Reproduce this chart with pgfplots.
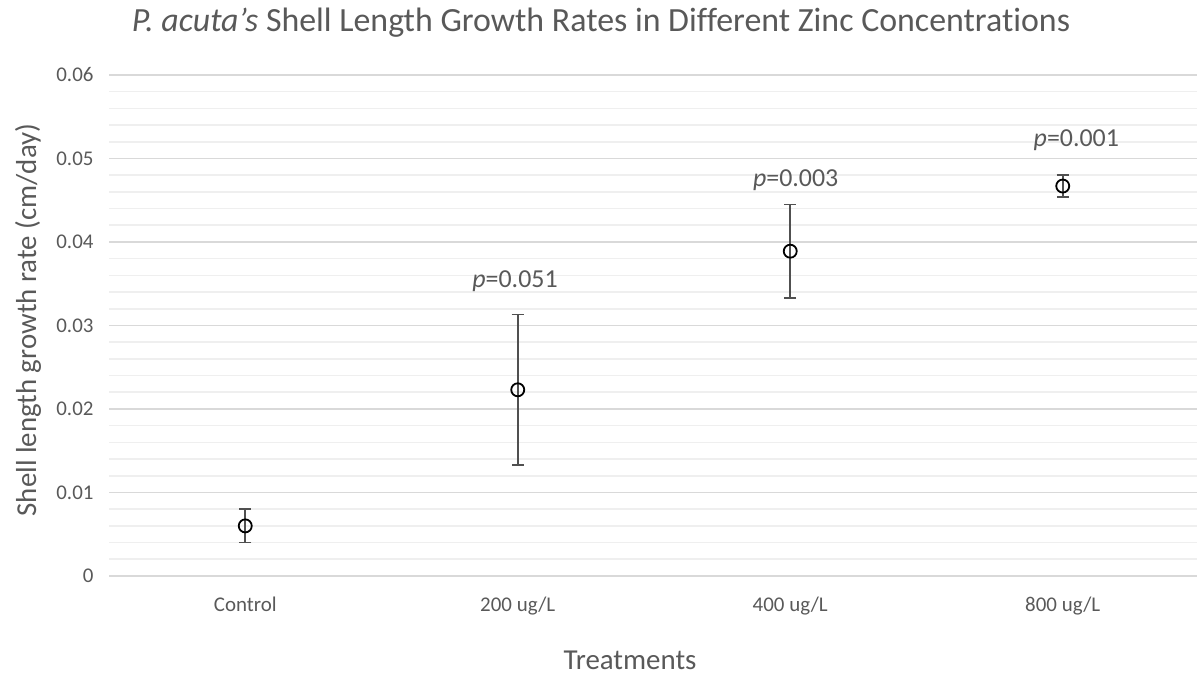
\documentclass[border=0pt]{standalone}
\usepackage{pgfplots}
\pgfplotsset{compat=1.18}
\usepackage{fontspec}
\setmainfont[Ligatures=NoCommon]{Carlito}
\definecolor{txt}{HTML}{595959}
\definecolor{majg}{HTML}{D9D9D9}
\definecolor{ming}{HTML}{EFEFEF}
\definecolor{errc}{HTML}{505050}
\begin{document}
\begin{tikzpicture}[x=1bp,y=1bp]
\useasboundingbox (0,0) rectangle (1197,675);
\begin{axis}[
  at={(109bp,99bp)}, anchor=south west,
  scale only axis, width=1090bp, height=501bp,
  xmin=-0.5, xmax=3.5, ymin=0, ymax=0.06,
  scaled y ticks=false,
  axis line style={draw=none},
  major tick style={draw=none}, minor tick style={draw=none},
  xtick={0,1,2,3},
  xticklabels={Control,200 ug/L,400 ug/L,800 ug/L},
  ytick={0,0.01,0.02,0.03,0.04,0.05,0.06},
  yticklabels={0,0.01,0.02,0.03,0.04,0.05,0.06},
  minor ytick={0.002,0.004,...,0.06},
  ymajorgrids, yminorgrids,
  major grid style={majg, line width=1.6bp},
  minor grid style={ming, line width=1.6bp},
  tick label style={font=\fontsize{21}{24}\selectfont, text=txt},
  yticklabel style={anchor=east, xshift=-12bp},
  xticklabel style={anchor=base, yshift=-36bp},
  clip=false,
]
\addplot+[only marks, mark=o, black, mark size=6.5bp,
  mark options={fill=white, line width=1.8bp, draw=black},
  error bars/.cd, y dir=both, y explicit,
  error bar style={line width=1.6bp, errc},
  error mark options={rotate=90, mark size=6bp, line width=1.6bp, errc}]
  coordinates {
    (0,0.0060) +- (0,0.0020)
    (1,0.0223) +- (0,0.0090)
    (2,0.0389) +- (0,0.0056)
    (3,0.0467) +- (0,0.0013)
  };
\node[text=txt, font=\fontsize{26}{30}\selectfont] at (axis cs:0.99,0.0353) {\textit{p}=0.051};
\node[text=txt, font=\fontsize{26}{30}\selectfont] at (axis cs:2.02,0.0474) {\textit{p}=0.003};
\node[text=txt, font=\fontsize{26}{30}\selectfont] at (axis cs:3.05,0.0522) {\textit{p}=0.001};
\end{axis}
\node[text=txt, font=\fontsize{34}{40}\selectfont] at (601,652) {\textit{P. acuta's} Shell Length Growth Rates in Different Zinc Concentrations};
\node[text=txt, font=\fontsize{29}{34}\selectfont, rotate=90] at (28,355) {Shell length growth rate (cm/day)};
\node[text=txt, font=\fontsize{29}{34}\selectfont] at (630,15) {Treatments};
\end{tikzpicture}
\end{document}
